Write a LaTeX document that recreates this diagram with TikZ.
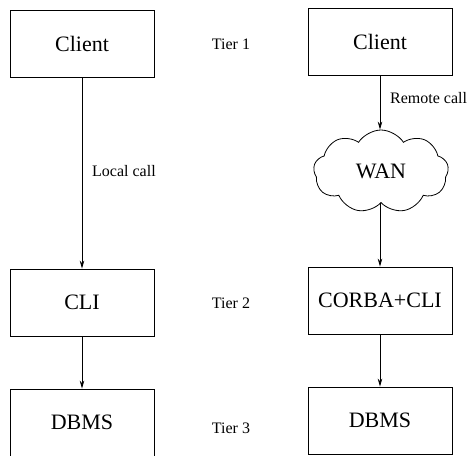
\documentclass[tikz,border=0pt]{standalone}
\usepackage{fontspec}
\setmainfont{Liberation Serif}
\usetikzlibrary{arrows.meta,shapes.symbols}
\begin{document}
\begin{tikzpicture}[x=1pt,y=-1pt,
  tierbox/.style={draw, line width=0.8pt, minimum width=144pt, minimum height=67pt,
    inner sep=0pt, font=\fontsize{22}{24}\selectfont},
  note/.style={font=\fontsize{16}{18}\selectfont, inner sep=0pt},
  flow/.style={draw, line width=0.8pt, -{Stealth[length=8pt,width=4.5pt,inset=2.5pt]}}]
\useasboundingbox (0,0) rectangle (471,455);
% two-tier (left) and three-tier (right) stacks
\node[tierbox] (lclient) at (82,43.5) {Client};
\node[tierbox] (lcli)    at (82,302.5) {CLI};
\node[tierbox] (ldbms)   at (82,422.5) {DBMS};
\node[tierbox] (rclient) at (380,42) {Client};
\node[cloud, draw, line width=0.8pt, cloud puffs=9, cloud puff arc=115, aspect=1.6,
      minimum width=135pt, minimum height=83pt, inner sep=0pt,
      font=\fontsize{22}{24}\selectfont] (wan) at (381,171.5) {WAN};
\node[tierbox] (rcorba)  at (380,300.5) {CORBA+CLI};
\node[tierbox] (rdbms)   at (380,420.5) {DBMS};
% tier labels
\node[note] (t1) at (231,44) {Tier 1};
\node[note] (t2) at (231,303) {Tier 2};
\node[note] (t3) at (231,428) {Tier 3};
% connectors
\draw[flow] (lclient.south) -- (lcli.north);
\draw[flow] (lcli.south) -- (ldbms.north);
\draw[flow] (rclient.south) -- (wan.north -| rclient.south);
\draw[flow] (wan.south -| rcorba.north) -- (rcorba.north);
\draw[flow] (rcorba.south) -- (rdbms.north);
% call labels
\node[note, anchor=west] (lc) at (92,171) {Local call};
\node[note, anchor=west] (rc) at (390,98) {Remote call};
\end{tikzpicture}
\end{document}
